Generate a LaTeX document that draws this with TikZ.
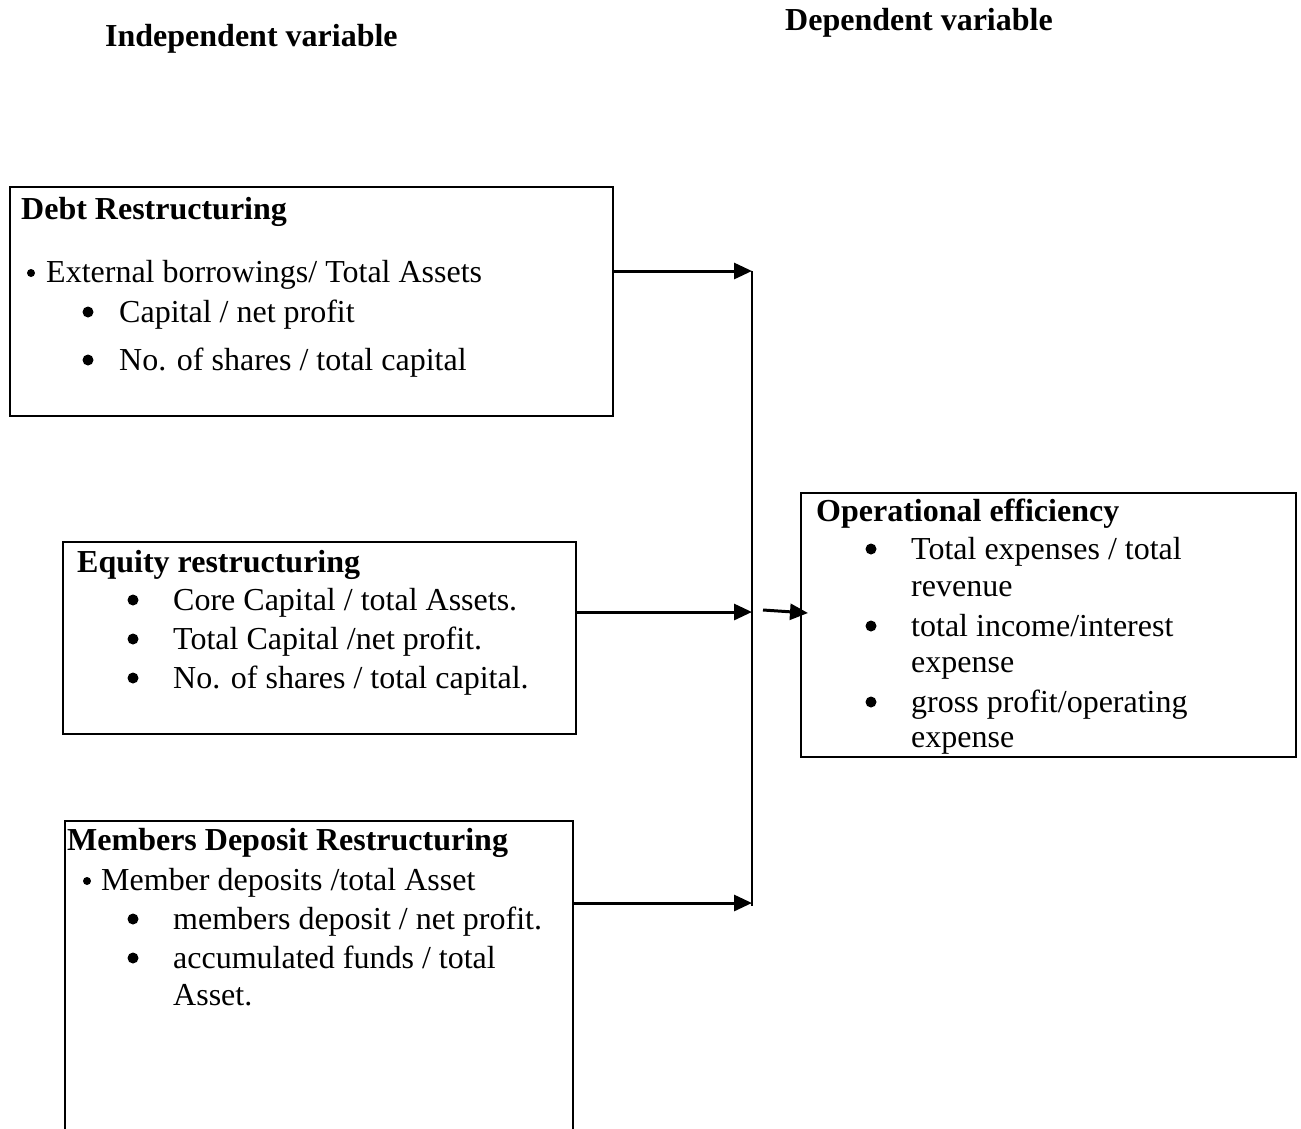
\documentclass[tikz,border=0pt]{standalone}
\usepackage{fontspec}
\setmainfont{Liberation Serif}
\usetikzlibrary{arrows.meta}
\begin{document}
\begin{tikzpicture}[x=1pt,y=-1pt,
  box/.style={draw=black, line width=2.2pt, anchor=north west, inner sep=0pt},
  txt/.style={anchor=base west, inner sep=0pt, font=\fontsize{32}{38}\selectfont},
  ttl/.style={anchor=base west, inner sep=0pt, font=\fontsize{32}{38}\selectfont\bfseries},
  bul/.style={circle, fill=black, inner sep=0pt, minimum size=11pt},
  sbul/.style={circle, fill=black, inner sep=0pt, minimum size=8pt},
  arr/.style={line width=3pt, -{Triangle[length=18pt,width=16pt]}},
  ln/.style={line width=2.4pt}]
\clip (0,0) rectangle (1301,1128);
\fill[white] (0,0) rectangle (1301,1128);

% headings
\node[ttl] (hind) at (105,46) {Independent variable};
\node[ttl] (hdep) at (785,30) {Dependent variable};

% boxes
\node[box, minimum width=603pt, minimum height=229pt] (debt) at (9,186) {};
\node[box, minimum width=513pt, minimum height=192pt] (eq) at (62,541) {};
\node[box, minimum width=508pt, minimum height=330pt] (mem) at (64,820) {};
\node[box, minimum width=495pt, minimum height=264pt] (op) at (800,492) {};

% debt text
\node[ttl] (d0) at (21,219) {Debt Restructuring};
\node[sbul] (d1b) at (31,273) {};
\node[txt] (d1) at (46,282) {External borrowings/ Total Assets};
\node[bul] (d2b) at (88,312) {};
\node[txt] (d2) at (119,322) {Capital / net profit};
\node[bul] (d3b) at (88,360) {};
\node[txt] (d3) at (119,370) {No. of shares / total capital};

% equity text
\node[ttl] (e0) at (77,572) {Equity restructuring};
\node[bul] (e1b) at (133,600) {};
\node[txt] (e1) at (173,610) {Core Capital / total Assets.};
\node[bul] (e2b) at (133,639) {};
\node[txt] (e2) at (173,649) {Total Capital /net profit.};
\node[bul] (e3b) at (133,678) {};
\node[txt] (e3) at (173,688) {No. of shares / total capital.};

% members text
\node[ttl] (m0) at (67,850) {Members Deposit Restructuring};
\node[sbul] (m1b) at (87,881) {};
\node[txt] (m1) at (101,890) {Member deposits /total Asset};
\node[bul] (m2b) at (133,919) {};
\node[txt] (m2) at (173,929) {members deposit / net profit.};
\node[bul] (m3b) at (133,958) {};
\node[txt] (m3) at (173,968) {accumulated funds / total};
\node[txt] (m4) at (173,1005) {Asset.};

% operational text
\node[ttl] (o0) at (816,521) {Operational efficiency};
\node[bul] (o1b) at (871,549) {};
\node[txt] (o1) at (911,559) {Total expenses / total};
\node[txt] (o1c) at (911,596) {revenue};
\node[bul] (o2b) at (871,626) {};
\node[txt] (o2) at (911,636) {total income/interest};
\node[txt] (o2c) at (911,672) {expense};
\node[bul] (o3b) at (871,702) {};
\node[txt] (o3) at (911,712) {gross profit/operating};
\node[txt] (o3c) at (911,747) {expense};

% connectors
\coordinate (j1) at (752,271);
\coordinate (j2) at (752,612);
\coordinate (j3) at (752,903);
\coordinate (jb) at (752,906);
\draw[ln] (j1) -- (jb);
\draw[arr] (debt.east |- j1) -- (j1);
\draw[arr] (eq.east |- j2) -- (j2);
\draw[arr] (mem.east |- j3) -- (j3);
\coordinate (s0) at (763,610);
\coordinate (s1) at (808,613);
\draw[arr] (s0) -- (s1);
\end{tikzpicture}
\end{document}
